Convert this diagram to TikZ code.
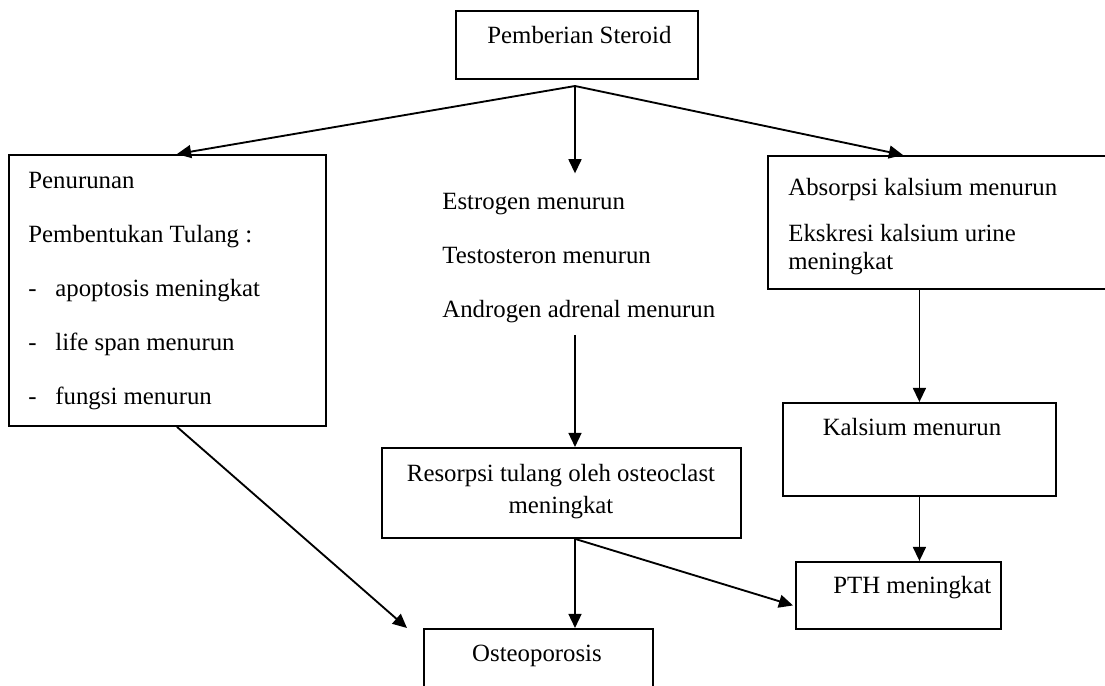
\documentclass[tikz,border=0pt]{standalone}
\usepackage{fontspec}
\setmainfont{Liberation Serif}
\usetikzlibrary{arrows.meta,calc}

\begin{document}
\begin{tikzpicture}[x=0.017cm, y=-0.017cm,
  box/.style={draw, line width=0.9pt, inner sep=0pt, anchor=north west},
  sz/.style 2 args={minimum width=#1*0.017cm, minimum height=#2*0.017cm},
  txt/.style={inner sep=0pt, anchor=base west, font=\fontsize{12}{14}\selectfont},
  ctr/.style={inner sep=0pt, anchor=base, font=\fontsize{12}{14}\selectfont},
  arr/.style={-{Triangle[length=0.24cm, width=0.22cm]}, line width=0.9pt}]
\useasboundingbox (0,0) rectangle (1105,685);
\fill[white] (0,0) rectangle (1105,685);
\clip (0,0) rectangle (1105,685);
\node[box, sz={242}{68}] (top) at (455,10) {};
\node[txt] (topT) at (487,43) {Pemberian Steroid};
\coordinate (split) at (575,86);
\node[box, sz={317}{271}] (left) at (8,154) {};
\node[txt] (l1) at (28,188) {Penurunan};
\node[txt] (l2) at (28,242) {Pembentukan Tulang :};
\foreach \t [count=\i] in {apoptosis meningkat, life span menurun, fungsi menurun} {
  \node[txt] (d\i) at (28,242+54*\i) {-};
  \node[txt] (li\i) at (55,242+54*\i) {\t};
}
\foreach \t [count=\i] in {Estrogen menurun, Testosteron menurun, Androgen adrenal menurun}
  \node[txt] (m\i) at (442,155+54*\i) {\t};
\node[box, sz={359}{90}] (res) at (381,447) {};
\node[ctr] (r1) at (561,481) {Resorpsi tulang oleh osteoclast};
\node[ctr] (r2) at (561,513) {meningkat};
\node[box, sz={229}{80}] (ost) at (423,628) {};
\node[ctr] (ostT) at (537,661) {Osteoporosis};
\node[box, sz={350}{133}] (right) at (767,155) {};
\node[txt] (a1) at (788,195) {Absorpsi kalsium menurun};
\node[txt] (a2) at (788,241) {Ekskresi kalsium urine};
\node[txt] (a3) at (788,269) {meningkat};
\node[box, sz={273}{93}] (kal) at (782,402) {};
\node[ctr] (kalT) at (912,435) {Kalsium menurun};
\node[box, sz={205}{67}] (pth) at (795,561) {};
\node[txt] (pthT) at (833,593) {PTH meningkat};
\draw[arr] (split) -- ($(left.north west)+(169,0)$);
\draw[arr] (split) -- ($(m1.north -| split)+(0,-19)$);
\draw[arr] (split) -- ($(right.north west)+(136,0)$);
\draw[arr] ($(m3.south -| split)+(0,12)$) -- (res.north -| split);
\draw[arr] (res.south -| split) -- (ost.north -| split);
\draw[arr] ($(left.south west)+(169,0)$) -- ($(ost.north west)+(-16,0)$);
\draw[arr] (res.south -| split) -- ($(pth.west)+(-2,10)$);
\draw[arr] (kal.north |- right.south) -- (kal.north);
\draw[arr] (kal.south) -- (kal.south |- pth.north);
\end{tikzpicture}
\end{document}
